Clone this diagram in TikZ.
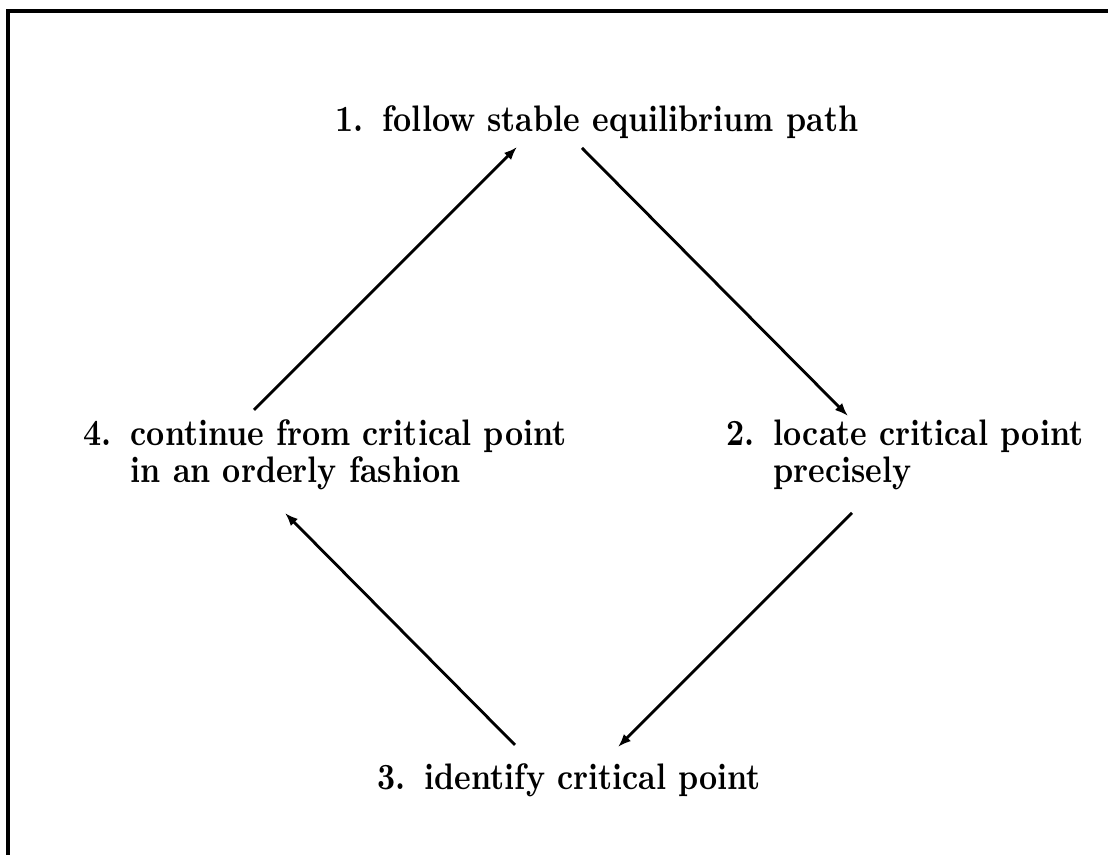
\documentclass[tikz,border=0pt]{standalone}
\usepackage{graphicx}
\usetikzlibrary{arrows.meta}
\newcommand\stretchy[1]{\scalebox{1}[1.17]{#1}}
\newcommand\twoline[3]{\stretchy{\def\arraystretch{0.79}\begin{tabular}[t]{@{}l@{\hspace{6pt}}l@{}}#1&#2\\&#3\end{tabular}}}
\begin{document}
\begin{tikzpicture}[x=0.317pt,y=-0.317pt,
  lbl/.style={anchor=base west,inner sep=0pt,font=\bfseries},
  flow/.style={line width=0.9pt,-{Latex[length=4.2pt,width=3.2pt]}},
  frameline/.style={line width=1pt}]
\useasboundingbox (0,0) rectangle (1108,855);
\draw[frameline] (8,855) -- (8,11) -- (1108,11);
\node[lbl] (n1) at (335,132) {\stretchy{1.\hspace{6pt}follow stable equilibrium path}};
\node[lbl] (n2) at (726,446) {\twoline{2.}{locate critical point}{precisely}};
\node[lbl] (n3) at (377,790) {\stretchy{3.\hspace{6pt}identify critical point}};
\node[lbl] (n4) at (83,446) {\twoline{4.}{continue from critical point}{in an orderly fashion}};
\coordinate (a4) at (254,410); \coordinate (b1) at (517,147);
\coordinate (a1) at (582,148); \coordinate (b2) at (848,416);
\coordinate (a2) at (852,513); \coordinate (b3) at (618,747);
\coordinate (a3) at (515,745); \coordinate (b4) at (285,513);
\draw[flow] (a4) -- (b1);
\draw[flow] (a1) -- (b2);
\draw[flow] (a2) -- (b3);
\draw[flow] (a3) -- (b4);
\end{tikzpicture}
\end{document}
